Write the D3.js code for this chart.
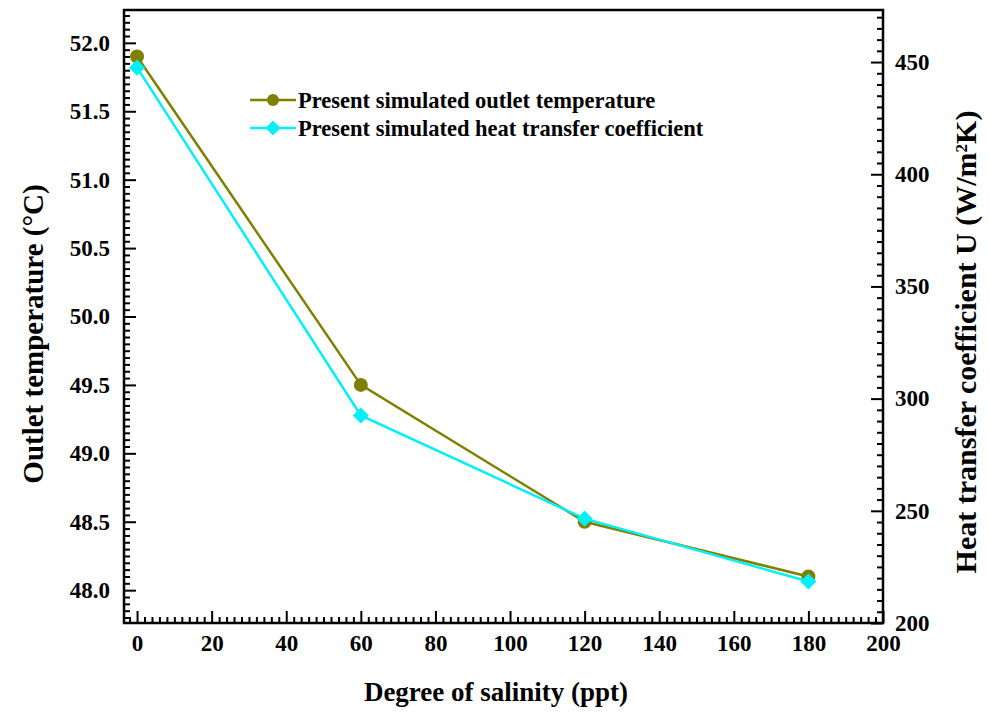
<!DOCTYPE html>
<html>
<head>
<meta charset="utf-8">
<script src="https://cdn.jsdelivr.net/npm/d3@7"></script>
<style>
  html, body { margin: 0; padding: 0; background: #fff; }
  svg { display: block; }
  text { font-family: "Liberation Serif", "Times New Roman", serif; font-weight: bold; fill: #000; }
</style>
</head>
<body>
<svg id="chart" width="989" height="713"></svg>
<script>
// ---- data ----
const salinity = [0, 60, 120, 180];
const outletTemp = [51.9, 49.5, 48.5, 48.1];
const heatTransferU = [447.5, 292.5, 246.5, 218.5];
const seriesNames = ["Present simulated outlet temperature", "Present simulated heat transfer coefficient"];
const xTicks = [0, 20, 40, 60, 80, 100, 120, 140, 160, 180, 200];
const leftTicks = [48.0, 48.5, 49.0, 49.5, 50.0, 50.5, 51.0, 51.5, 52.0];
const rightTicks = [200, 250, 300, 350, 400, 450];

const colTemp = "#808000";
const colU = "#00f0f5";

const svg = d3.select("#chart");
const L = 124, R = 883, T = 10, B = 623;

const x = d3.scaleLinear().domain([-3.5, 200]).range([L, R]);
const yL = d3.scaleLinear().domain([47.76, 52.24]).range([B, T]);
const yR = d3.scaleLinear().domain([200, 473.2]).range([B, T]);

const round = v => Math.round(v * 1000) / 1000;
const xMinor = d3.range(-2, 200, 2).map(round).filter(v => v % 20 !== 0);
const lMinor = d3.range(47.8, 52.24, 0.05).map(round).filter(v => Math.abs(v * 2 - Math.round(v * 2)) > 1e-6);
const rMinor = d3.range(205, 473, 5).filter(v => v % 50 !== 0);

// minor ticks
svg.append("g").attr("transform", `translate(0,${B})`)
  .call(d3.axisBottom(x).tickValues(xMinor).tickSize(-6).tickFormat(""))
  .call(g => g.select(".domain").remove());
svg.append("g").attr("transform", `translate(${L},0)`)
  .call(d3.axisLeft(yL).tickValues(lMinor).tickSize(-6).tickFormat(""))
  .call(g => g.select(".domain").remove());
svg.append("g").attr("transform", `translate(${R},0)`)
  .call(d3.axisRight(yR).tickValues(rMinor).tickSize(-6).tickFormat(""))
  .call(g => g.select(".domain").remove());

// major ticks + labels
const gx = svg.append("g").attr("transform", `translate(0,${B})`)
  .call(d3.axisBottom(x).tickValues(xTicks).tickSize(-12).tickPadding(12).tickFormat(d3.format("d")));
const gl = svg.append("g").attr("transform", `translate(${L},0)`)
  .call(d3.axisLeft(yL).tickValues(leftTicks).tickSize(-12).tickPadding(14).tickFormat(d3.format(".1f")));
const gr = svg.append("g").attr("transform", `translate(${R},0)`)
  .call(d3.axisRight(yR).tickValues(rightTicks).tickSize(-12).tickPadding(12).tickFormat(d3.format("d")));

[gx, gl, gr].forEach(g => {
  g.select(".domain").remove();
  g.selectAll("text").style("font-size", "23px").style("font-family", '"Liberation Serif", serif').style("font-weight", "bold");
});
svg.selectAll(".tick line").attr("stroke", "#000").attr("stroke-width", 2);

// frame
svg.append("rect").attr("x", L).attr("y", T).attr("width", R - L).attr("height", B - T)
  .attr("fill", "none").attr("stroke", "#000").attr("stroke-width", 2.5);

// series
const lineT = d3.line().x((d, i) => x(salinity[i])).y(d => yL(d));
const lineU = d3.line().x((d, i) => x(salinity[i])).y(d => yR(d));

svg.append("path").datum(outletTemp).attr("d", lineT)
  .attr("fill", "none").attr("stroke", colTemp).attr("stroke-width", 2.5);
svg.append("g").selectAll("circle").data(outletTemp).join("circle")
  .attr("cx", (d, i) => x(salinity[i])).attr("cy", d => yL(d)).attr("r", 7).attr("fill", colTemp);

svg.append("path").datum(heatTransferU).attr("d", lineU)
  .attr("fill", "none").attr("stroke", colU).attr("stroke-width", 2.5);
const diamond = d3.symbol().type(d3.symbolDiamond2 || d3.symbolSquare2).size(150);
svg.append("g").selectAll("path").data(heatTransferU).join("path")
  .attr("transform", (d, i) => `translate(${x(salinity[i])},${yR(d)}) rotate(45)`)
  .attr("d", d3.symbol().type(d3.symbolSquare).size(130)).attr("fill", colU);

// legend
const lg = svg.append("g");
const legY = [100, 128];
[colTemp, colU].forEach((c, i) => {
  lg.append("line").attr("x1", 250).attr("x2", 296).attr("y1", legY[i]).attr("y2", legY[i])
    .attr("stroke", c).attr("stroke-width", 2.5);
  if (i === 0) {
    lg.append("circle").attr("cx", 273).attr("cy", legY[i]).attr("r", 6).attr("fill", c);
  } else {
    lg.append("path").attr("transform", `translate(273,${legY[i]}) rotate(45)`)
      .attr("d", d3.symbol().type(d3.symbolSquare).size(110)).attr("fill", c);
  }
  lg.append("text").attr("x", 298).attr("y", legY[i] + 8).style("font-size", "22.5px").text(seriesNames[i]);
});

// axis titles
svg.append("text").attr("x", 496).attr("y", 701).attr("text-anchor", "middle")
  .style("font-size", "27px").text("Degree of salinity (ppt)");
svg.append("text").attr("transform", "translate(43,334) rotate(-90)").attr("text-anchor", "middle")
  .style("font-size", "29px").text("Outlet temperature (°C)");
const rt = svg.append("text").attr("transform", "translate(976,342) rotate(-90)").attr("text-anchor", "middle")
  .style("font-size", "30px");
rt.append("tspan").text("Heat transfer coefficient U (W/m");
rt.append("tspan").attr("baseline-shift", "super").style("font-size", "17px").text("2");
rt.append("tspan").text("K)");
</script>
</body>
</html>
